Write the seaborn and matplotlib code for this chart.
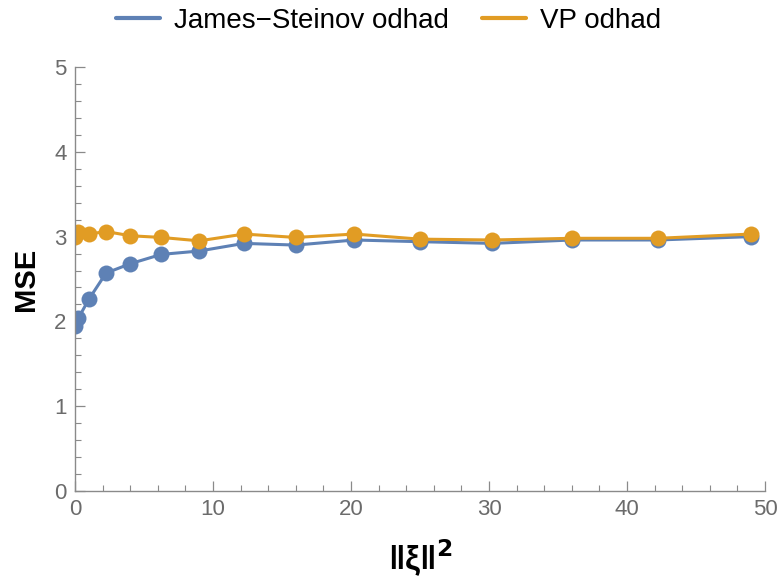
import numpy as np
import pandas as pd
import matplotlib
matplotlib.use("Agg")
import matplotlib.pyplot as plt
import seaborn as sns
from matplotlib.ticker import MultipleLocator
from matplotlib.lines import Line2D

xi2 = [0, 0.25, 1, 2.25, 4, 6.25, 9, 12.25, 16, 20.25, 25, 30.25, 36, 42.25, 49]
mse_js = [1.94, 2.04, 2.26, 2.57, 2.68, 2.79, 2.83, 2.92, 2.90, 2.96, 2.94, 2.92, 2.96, 2.96, 3.00]
mse_vp = [3.00, 3.05, 3.03, 3.06, 3.01, 2.99, 2.95, 3.03, 2.99, 3.03, 2.97, 2.96, 2.98, 2.98, 3.03]
series_names = ["James\u2212Steinov odhad", "VP odhad"]

df = pd.concat([
    pd.DataFrame({"x": xi2, "y": mse_js, "s": series_names[0]}),
    pd.DataFrame({"x": xi2, "y": mse_vp, "s": series_names[1]}),
])

sns.set_style("white")
plt.rcParams['font.family'] = ['Liberation Sans Narrow', 'Liberation Sans', 'DejaVu Sans']
plt.rcParams['text.color'] = 'black'
plt.rcParams['axes.labelcolor'] = 'black'

fig, ax = plt.subplots(figsize=(7.77, 5.81), dpi=100)
fig.subplots_adjust(left=75/777, right=765/777, top=1-67/581, bottom=1-491/581)

palette = {series_names[0]: "#5E81B5", series_names[1]: "#E19C24"}
sns.lineplot(data=df, x="x", y="y", hue="s", palette=palette, marker="o",
             markersize=11.5, markeredgewidth=0, linewidth=2.2, ax=ax, legend=False)

ax.set_xlim(0, 50)
ax.set_ylim(0, 5)
ax.xaxis.set_major_locator(MultipleLocator(10))
ax.xaxis.set_minor_locator(MultipleLocator(2))
ax.yaxis.set_major_locator(MultipleLocator(1))
ax.yaxis.set_minor_locator(MultipleLocator(0.2))
gray = "#8a8a8a"
for side in ["top", "right"]:
    ax.spines[side].set_visible(False)
for side in ["left", "bottom"]:
    ax.spines[side].set_color(gray)
    ax.spines[side].set_linewidth(1.0)
ax.tick_params(axis="both", which="major", direction="in", length=7, color=gray,
               labelcolor="#6b6b6b", labelsize=16, width=0.9, left=True, bottom=True, pad=6)
ax.tick_params(axis="both", which="minor", direction="in", length=4, color=gray,
               width=0.8, left=True, bottom=True)

ax.set_xlabel("\u2016\u03be\u2016$^\\mathbf{2}$", fontsize=24, fontweight="bold", labelpad=12)
ax.set_ylabel("MSE", fontsize=21, fontweight="bold", labelpad=10)

handles = [Line2D([], [], color=palette[n], linewidth=3) for n in series_names]
fig.legend(handles, series_names, loc="upper center", bbox_to_anchor=(0.5, 1.006),
           ncol=2, frameon=False, fontsize=20, handlelength=1.6, columnspacing=1.2,
           handletextpad=0.5, borderaxespad=0.0)

fig.savefig("out.png", dpi=100)
